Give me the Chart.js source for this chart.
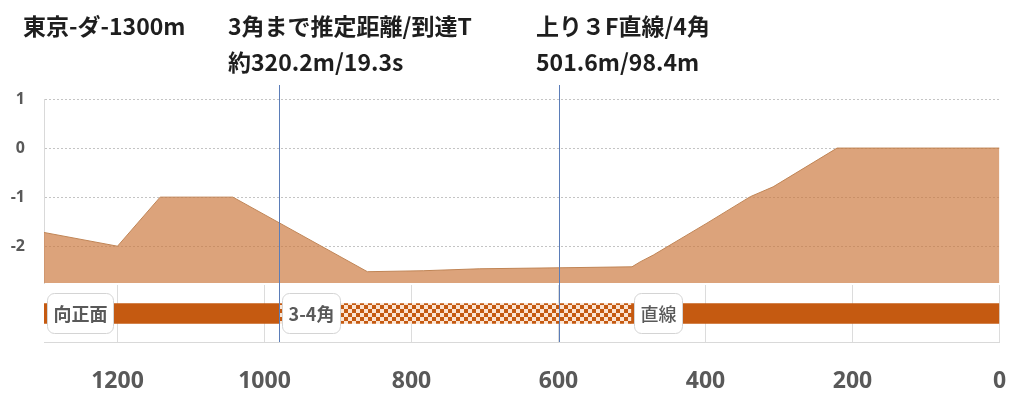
<!DOCTYPE html>
<html><head><meta charset="utf-8">
<script src="https://cdn.jsdelivr.net/npm/chart.js@4"></script>
<style>
html,body{margin:0;padding:0;background:#fff;}
#wrap{position:relative;width:1024px;height:401px;overflow:hidden;background:#fff;}
#c1{position:absolute;left:0;top:0;}
#c2{position:absolute;left:0;top:285px;}
.t{position:absolute;font-family:"Noto Sans CJK JP";font-weight:bold;font-size:23px;line-height:23px;color:#1e1e1e;white-space:nowrap;z-index:2;}
</style></head>
<body><div id="wrap">
<canvas id="c1" width="1024" height="285" style="width:1024px;height:285px"></canvas>
<canvas id="c2" width="1024" height="116" style="width:1024px;height:116px"></canvas>
<div class="t" id="t1" style="left:23px;top:14px"></div>
<div class="t" id="t2" style="left:228px;top:14px"></div>
<div class="t" id="t3" style="left:228px;top:50px"></div>
<div class="t" id="t4" style="left:536px;top:14px"></div>
<div class="t" id="t5" style="left:536px;top:50px"></div>
</div>
<script>
// ---- data ----
const titleCourse = '東京-ダ-1300m';
const titleCorner = ['3角まで推定距離/到達T', '約320.2m/19.3s'];
const titleStraight = ['上り３F直線/4角', '501.6m/98.4m'];
const distance  = [1300, 1200, 1142, 1043, 860, 784, 707, 598, 500, 489, 471, 398, 339, 308, 221, 0];
const elevation = [-1.72, -2.0, -1.0, -1.0, -2.52, -2.50, -2.46, -2.44, -2.42, -2.32, -2.18, -1.53, -0.99, -0.79, 0, 0];
const yTicks = [1, 0, -1, -2];
const xTicks = [1200, 1000, 800, 600, 400, 200, 0];
const sections = ['向正面', '3-4角', '直線'];
const sectionStart = [1300, 979.8, 501.6];
const sectionEnd = [979.8, 501.6, 0];
const markers = [979.8, 600];

document.getElementById('t1').textContent = titleCourse;
document.getElementById('t2').textContent = titleCorner[0];
document.getElementById('t3').textContent = titleCorner[1];
document.getElementById('t4').textContent = titleStraight[0];
document.getElementById('t5').textContent = titleStraight[1];

const ORANGE = '#C55A11';
const MARK = '#5B7DB8';
const NUMFONT = 'Open Sans';

function markerPlugin(top, bottomFn) {
  return {
    id: 'markers',
    afterDatasetsDraw(chart) {
      const ctx = chart.ctx, x = chart.scales.x;
      ctx.save();
      ctx.strokeStyle = MARK; ctx.lineWidth = 1;
      markers.forEach(m => {
        const px = Math.round(x.getPixelForValue(m)) + 0.5;
        ctx.beginPath(); ctx.moveTo(px, top); ctx.lineTo(px, bottomFn(chart)); ctx.stroke();
      });
      ctx.restore();
    }
  };
}

const c1 = document.getElementById('c1');
new Chart(c1, {
  type: 'line',
  data: { datasets: [{
    data: distance.map((d, i) => ({ x: d, y: elevation[i] })),
    borderColor: '#C08556', borderWidth: 1,
    backgroundColor: 'rgba(204,120,60,0.68)',
    fill: 'start', pointRadius: 0, tension: 0
  }]},
  options: {
    responsive: false, animation: false, events: [],
    layout: { padding: { top: 99, right: 24.5, bottom: 2, left: 0 } },
    plugins: { legend: { display: false }, tooltip: { enabled: false } },
    scales: {
      x: { type: 'linear', min: 0, max: 1300, reverse: true, display: false },
      y: {
        min: -2.75, max: 1,
        afterBuildTicks: s => { s.ticks = yTicks.map(v => ({ value: v })); },
        afterFit: s => { s.width = 44; s.paddingTop = 0; s.paddingBottom = 0; },
        grid: { color: '#C4C4C4', drawTicks: false },
        border: { display: true, color: '#D9D9D9', dash: [2, 2] },
        ticks: { font: { family: NUMFONT, weight: 'bold', size: 16 }, color: '#595959', padding: 19 }
      }
    }
  },
  plugins: [markerPlugin(85, ch => ch.height)]
});

const c2 = document.getElementById('c2');
const ctx2 = c2.getContext('2d');
function checker() {
  const c = document.createElement('canvas'); c.width = 8; c.height = 8;
  const g = c.getContext('2d');
  g.fillStyle = '#FBE4D2'; g.fillRect(0, 0, 8, 8);
  g.fillStyle = ORANGE; g.fillRect(0, 0, 4, 4); g.fillRect(4, 4, 4, 4);
  return ctx2.createPattern(c, 'repeat');
}
const pattern = checker();

const labelPlugin = {
  id: 'sectionLabels',
  afterDatasetsDraw(chart) {
    const ctx = chart.ctx, x = chart.scales.x;
    ctx.save();
    sections.forEach((s, i) => {
      const px = Math.round(x.getPixelForValue(sectionStart[i])) + 3.5;
      ctx.font = (i === 2 ? '500' : 'bold') + ' 18px "Noto Sans CJK JP"';
      const w = Math.round(ctx.measureText(s).width + 12);
      const top = 8.5, h = 40;
      ctx.beginPath();
      ctx.roundRect(px, top, w, h, 7);
      ctx.fillStyle = '#FFFFFF'; ctx.fill();
      ctx.strokeStyle = '#D4D4D4'; ctx.lineWidth = 1; ctx.stroke();
      ctx.fillStyle = '#595959';
      ctx.textBaseline = 'middle'; ctx.textAlign = 'center';
      ctx.fillText(s, px + w / 2, top + h / 2 + 1);
    });
    ctx.restore();
  }
};

new Chart(c2, {
  type: 'bar',
  data: {
    labels: ['コース'],
    datasets: sections.map((s, i) => ({
      label: s,
      data: [[sectionEnd[i], sectionStart[i]]],
      backgroundColor: i === 1 ? pattern : ORANGE,
      borderWidth: 0, barThickness: 20, grouped: false
    }))
  },
  options: {
    indexAxis: 'y', responsive: false, animation: false, events: [],
    layout: { padding: { top: 0, right: 24.5, bottom: 0, left: 0 } },
    plugins: { legend: { display: false }, tooltip: { enabled: false } },
    scales: {
      x: {
        type: 'linear', min: 0, max: 1300, reverse: true,
        afterBuildTicks: s => { s.ticks = xTicks.map(v => ({ value: v })); },
        afterFit: s => { s.height = 59; s.paddingLeft = 0; s.paddingRight = 0; },
        grid: { color: '#DCDCDC', drawTicks: false },
        border: { display: true, color: '#D9D9D9' },
        ticks: { font: { family: NUMFONT, weight: 'bold', size: 23 }, color: '#595959', padding: 26,
                 maxRotation: 0, autoSkip: false, callback: v => String(v) }
      },
      y: {
        afterFit: s => { s.width = 44; s.paddingTop = 0; s.paddingBottom = 0; },
        grid: { display: false }, border: { display: false }, ticks: { display: false }
      }
    }
  },
  plugins: [markerPlugin(0, ch => ch.chartArea.bottom), labelPlugin]
});
</script>
</body></html>
